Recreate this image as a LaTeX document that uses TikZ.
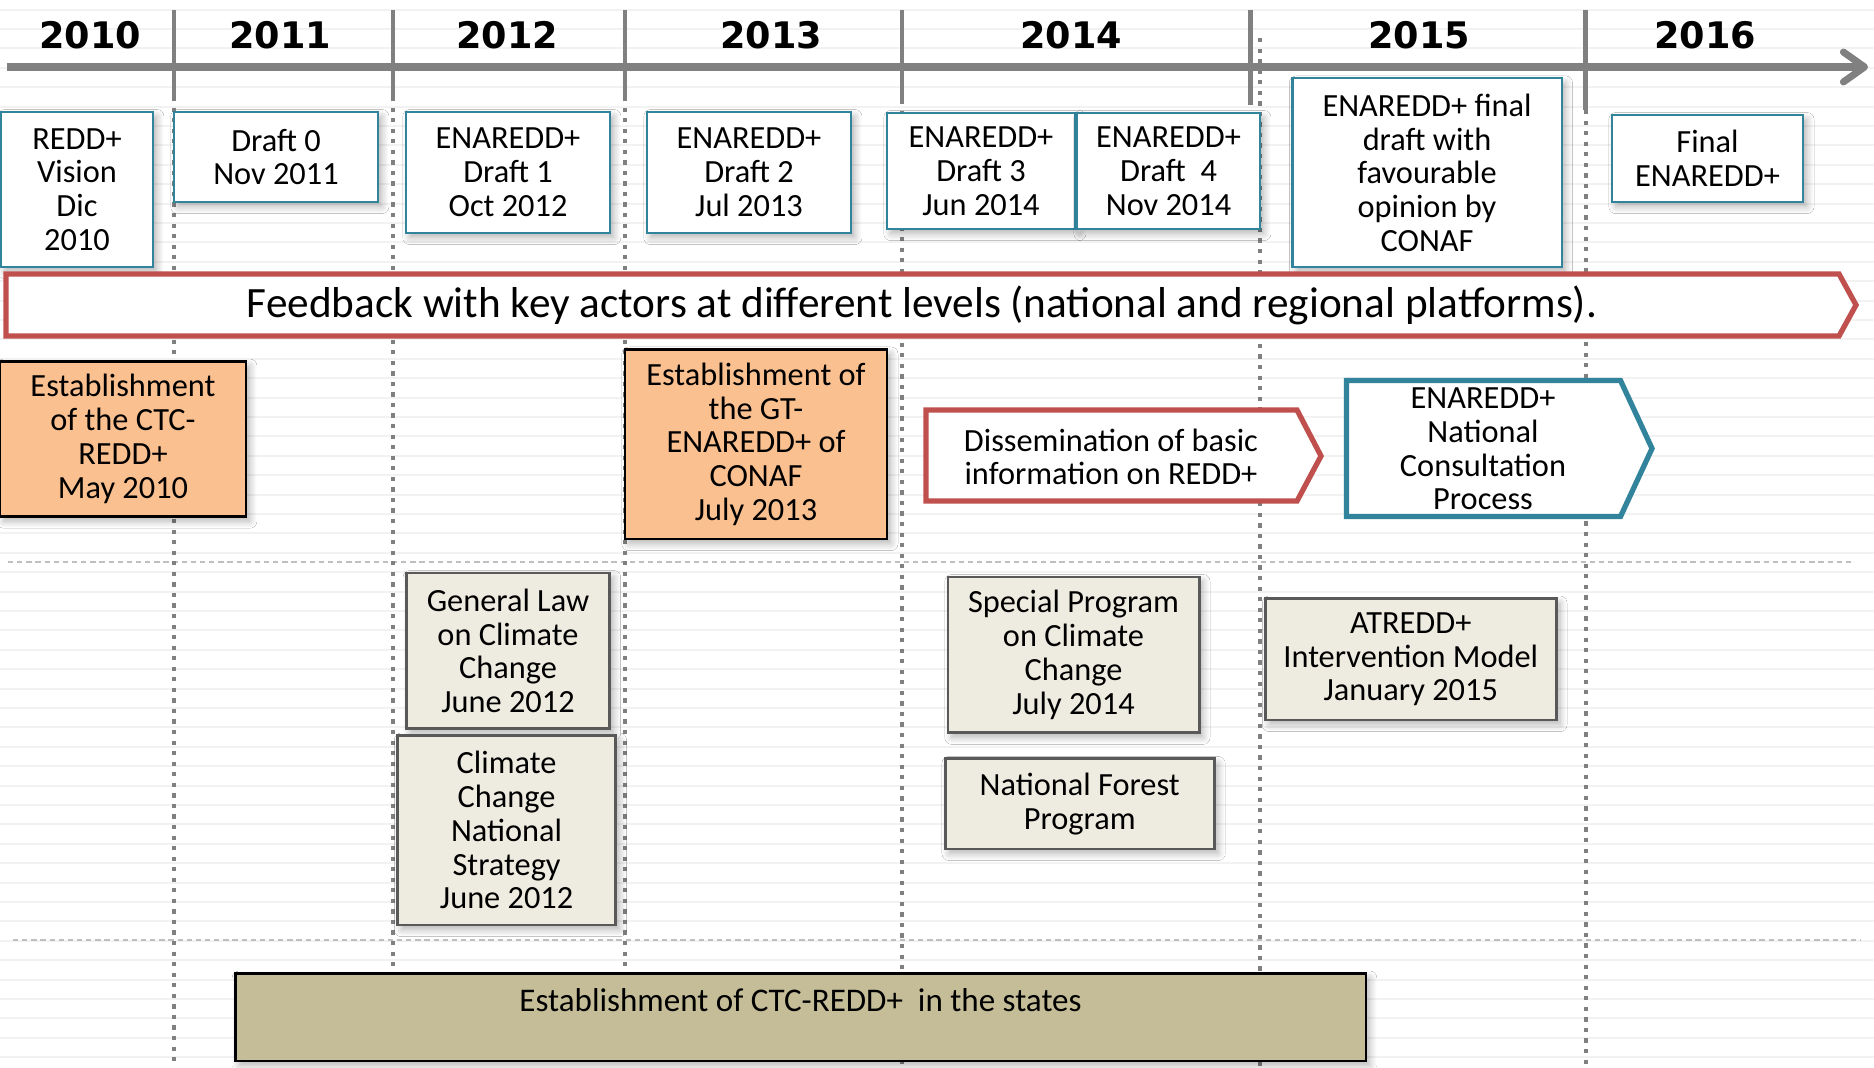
\documentclass[tikz, border = 0pt]{standalone}
\usepackage{fontspec}
\setmainfont{Carlito}
\newfontfamily\yearfont{DejaVu Sans}
\usetikzlibrary{arrows.meta, shadows.blur}

\definecolor{draftblue}{RGB}{49,132,155}
\definecolor{feedbackred}{RGB}{192,80,77}
\definecolor{eventorange}{RGB}{250,192,144}
\definecolor{lawbeige}{RGB}{238,236,225}
\definecolor{lawgray}{RGB}{89,89,89}
\definecolor{stateolive}{RGB}{196,189,151}

\begin{document}
\begin{tikzpicture}[x = 0.01cm, y = -0.01cm,
	> = {Straight Barb[length = 6pt, width = 8.5pt, round]},
	label/.style = {align = center, inner sep = 0pt, font = \fontsize{9.2}{9.6}\selectfont},
	entry/.style = {label, blur shadow = {shadow opacity = 30, shadow xshift = 1.1pt, shadow yshift = -1.3pt, shadow blur radius = 2pt, shadow blur steps = 8}},
	draft/.style = {entry, draw = draftblue, line width = 0.6pt, fill = white},
	event/.style = {entry, draw = black, line width = 0.7pt, fill = eventorange},
	law/.style = {entry, draw = lawgray, line width = 0.8pt, fill = lawbeige},
	banner/.style = {line width = 1.5pt, fill = white},
	year/.style = {font = \yearfont\bfseries\fontsize{10.4}{12}\selectfont},
	stripe/.style = {black!5, line width = 0.6pt},
	row-line/.style = {black!25, line width = 0.4pt, dash pattern = on 1.5pt off 1.1pt},
	year-tick/.style = {black!50, line width = 1.4pt},
	year-line/.style = {black!50, line width = 1.25pt, dash pattern = on 1.2pt off 1.8pt}]

	% Page
	
	\useasboundingbox (0, 0) rectangle (1874, 1067);
	\fill [white] (0, 0) rectangle (1874, 1067);
	
	\foreach \i in {0, ..., 54}
		\draw [stripe] (0, {9.6 + 19.4 * \i}) -- (1874, {9.6 + 19.4 * \i});
	
	\draw [row-line] (8, 562) -- (1851, 562);
	\draw [row-line] (13, 940) -- (1860, 940);
	
	% Years
	
	\foreach \x / \y in {174/97, 393/97, 625/97, 902/100, 1250.5/105, 1585.5/110}
		\draw [year-tick] (\x, 10) -- (\x, \y);
	\foreach \x / \y in {174/97, 393/97, 625/97, 902/100, 1260/38, 1586/110}
		\draw [year-line] (\x, \y) -- (\x, 1067);
	
	\draw [black!50, line width = 2pt, ->] (7, 67) -- (1868, 67);
	
	\foreach \x / \yr in {90/2010, 280/2011, 507/2012, 771/2013, 1071/2014, 1419/2015, 1705/2016}
		\node [year] (year-\yr) at (\x, 35) {\yr};
	
	% Drafts of the strategy
	
	\node [draft, minimum width = 1.52cm, minimum height = 1.55cm] (vision) at (77, 189.5) {REDD+\\Vision\\Dic\\2010};
	\node [draft, minimum width = 2.04cm, minimum height = 0.90cm] (draft-0) at (276, 157) {Draft 0\\Nov 2011};
	\node [draft, minimum width = 2.04cm, minimum height = 1.21cm] (draft-1) at (508, 172.5) {ENAREDD+\\Draft 1\\Oct 2012};
	\node [draft, minimum width = 2.04cm, minimum height = 1.21cm] (draft-2) at (749, 172.5) {ENAREDD+\\Draft 2\\Jul 2013};
	\node [draft, minimum width = 1.88cm, minimum height = 1.16cm] (draft-3) at (981, 171) {ENAREDD+\\Draft 3\\Jun 2014};
	\node [draft, minimum width = 1.83cm, minimum height = 1.16cm] (draft-4) at (1168.5, 171) {ENAREDD+\\Draft\ \ 4\\Nov 2014};
	\node [draft, minimum width = 2.69cm, minimum height = 1.885cm] (final-draft) at (1427, 172.75) {ENAREDD+ final\\draft with\\favourable\\opinion by\\CONAF};
	\node [draft, minimum width = 1.91cm, minimum height = 0.87cm] (final) at (1707.5, 158.5) {Final\\ENAREDD+};
	
	% Feedback
	
	\draw [banner, draw = feedbackred] (6, 274) -- (1839, 274) -- (1856, 305) -- (1839, 336) -- (6, 336) -- cycle;
	\node [font = \fontsize{12.3}{13}\selectfont] (feedback) at (922, 305) {Feedback with key actors at different levels (national and regional platforms).};
	
	% Institutional milestones
	
	\node [event, minimum width = 2.46cm, minimum height = 1.55cm] (ctc) at (123, 439) {Establishment\\of the CTC-\\REDD+\\May 2010};
	\node [event, minimum width = 2.62cm, minimum height = 1.895cm] (gt) at (756, 444.25) {Establishment of\\the GT-\\ENAREDD+ of\\CONAF\\July 2013};
	
	\draw [banner, draw = feedbackred] (926, 410) -- (1297, 410) -- (1321, 456) -- (1297, 501) -- (926, 501) -- cycle;
	\node [label] (dissemination) at (1111, 457) {Dissemination of basic\\information on REDD+};
	
	\draw [banner, draw = draftblue] (1346.5, 380.5) -- (1620.5, 380.5) -- (1652, 448.5) -- (1620.5, 516.5) -- (1346.5, 516.5) -- cycle;
	\node [label] (consultation) at (1483, 449) {ENAREDD+\\National\\Consultation\\Process};
	
	% Legal framework
	
	\node [law, minimum width = 2.035cm, minimum height = 1.556cm] (general-law) at (508, 650.8) {General Law\\on Climate\\Change\\June 2012};
	\node [law, minimum width = 2.18cm, minimum height = 1.895cm] (strategy) at (506.6, 830.25) {Climate\\Change\\National\\Strategy\\June 2012};
	\node [law, minimum width = 2.51cm, minimum height = 1.557cm] (special-program) at (1073.5, 654.85) {Special Program\\on Climate\\Change\\July 2014};
	\node [law, minimum width = 2.69cm, minimum height = 0.90cm] (forest-program) at (1079.7, 803.9) {National Forest\\Program};
	\node [law, minimum width = 2.905cm, minimum height = 1.215cm] (atredd) at (1410.75, 659.25) {ATREDD+\\Intervention Model\\January 2015};
	
	% States
	
	\node [entry, draw = black, line width = 0.7pt, fill = stateolive, minimum width = 11.30cm, text height = 0.375cm, text depth = 0.5cm, anchor = base, font = \fontsize{9.4}{9.8}\selectfont] (states) at (800.6, 1011) {Establishment of CTC-REDD+\ \ in the states};
	
\end{tikzpicture}
\end{document}
